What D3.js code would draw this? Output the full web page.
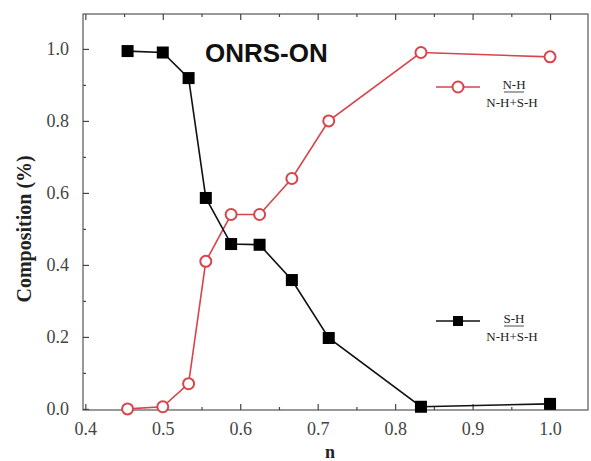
<!DOCTYPE html>
<html>
<head>
<meta charset="utf-8">
<style>
body { margin: 0; background: #fff; }
svg text { font-family: "Liberation Serif", "DejaVu Serif", serif; }
</style>
</head>
<body>
<div id="chart"></div>
<script src="https://d3js.org/d3.v7.min.js"></script>
<script>
const nValues = [5/11, 1/2, 8/15, 5/9, 10/17, 5/8, 2/3, 5/7, 5/6, 1.0];
const shFraction = [0.994, 0.99, 0.919, 0.586, 0.458, 0.456, 0.358, 0.197, 0.006, 0.014];
const nhFraction = [0.0, 0.006, 0.07, 0.41, 0.54, 0.54, 0.64, 0.80, 0.99, 0.978];
const xTicks = [0.4, 0.5, 0.6, 0.7, 0.8, 0.9, 1.0];
const yTicks = [0.0, 0.2, 0.4, 0.6, 0.8, 1.0];

const width = 591, height = 461;
const margin = {left: 83, right: 3, top: 14, bottom: 51};

const svg = d3.select("#chart").append("svg")
  .attr("width", width)
  .attr("height", height);

const x = d3.scaleLinear().domain([0.397, 1.049]).range([margin.left, width - margin.right]);
const y = d3.scaleLinear().domain([-0.003, 1.097]).range([height - margin.bottom, margin.top]);

const plotW = width - margin.left - margin.right;
const plotH = height - margin.top - margin.bottom;

// frame
svg.append("rect")
  .attr("x", margin.left).attr("y", margin.top)
  .attr("width", plotW).attr("height", plotH)
  .attr("fill", "none").attr("stroke", "#555").attr("stroke-width", 1.2);

// axes: ticks inward, labels outside
const xMinor = d3.range(0.45, 1.04, 0.1);
const yMinor = d3.range(0.1, 1.05, 0.2);

svg.append("g")
  .attr("transform", `translate(0,${height - margin.bottom})`)
  .call(d3.axisBottom(x).tickValues(xTicks).tickSize(-6).tickPadding(12).tickFormat(d3.format(".1f")));
svg.append("g")
  .attr("transform", `translate(0,${height - margin.bottom})`)
  .call(d3.axisBottom(x).tickValues(xMinor).tickSize(-3).tickFormat(""));
svg.append("g")
  .attr("transform", `translate(0,${margin.top})`)
  .call(d3.axisTop(x).tickValues(xTicks).tickSize(-6).tickFormat(""));
svg.append("g")
  .attr("transform", `translate(0,${margin.top})`)
  .call(d3.axisTop(x).tickValues(xMinor).tickSize(-3).tickFormat(""));

svg.append("g")
  .attr("transform", `translate(${margin.left},0)`)
  .call(d3.axisLeft(y).tickValues(yTicks).tickSize(-6).tickPadding(14).tickFormat(d3.format(".1f")));
svg.append("g")
  .attr("transform", `translate(${margin.left},0)`)
  .call(d3.axisLeft(y).tickValues(yMinor).tickSize(-3).tickFormat(""));

svg.selectAll(".domain").remove();
svg.selectAll(".tick line").attr("stroke", "#444").attr("stroke-width", 1.2);
svg.selectAll(".tick text")
  .attr("font-size", 18)
  .attr("fill", "#444")
  .style("font-family", "'Liberation Serif', serif");

// axis titles
svg.append("text")
  .attr("transform", `translate(31,${y(0.5)}) rotate(-90)`)
  .attr("text-anchor", "middle")
  .attr("font-size", 20)
  .attr("font-weight", "bold")
  .attr("fill", "#222")
  .text("Composition (%)");

svg.append("text")
  .attr("x", x(0.716)).attr("y", 458)
  .attr("text-anchor", "middle")
  .attr("font-size", 18)
  .attr("font-weight", "bold")
  .attr("fill", "#222")
  .text("n");

// title
svg.append("text")
  .attr("x", 205).attr("y", 62)
  .attr("font-size", 26)
  .attr("font-weight", "bold")
  .style("font-family", "'Liberation Sans', Arial, sans-serif")
  .attr("fill", "#111")
  .text("ONRS-ON");

const line = d3.line().x(d => x(d[0])).y(d => y(d[1]));

const red = "#d9434a";
const shPts = nValues.map((n, i) => [n, shFraction[i]]);
const nhPts = nValues.map((n, i) => [n, nhFraction[i]]);

svg.append("path").datum(nhPts)
  .attr("d", line).attr("fill", "none").attr("stroke", red).attr("stroke-width", 1.6);
svg.append("path").datum(shPts)
  .attr("d", line).attr("fill", "none").attr("stroke", "#111").attr("stroke-width", 1.6);

svg.append("g").selectAll("circle")
  .data(nhPts).join("circle")
  .attr("cx", d => x(d[0])).attr("cy", d => y(d[1]))
  .attr("r", 5.5)
  .attr("fill", "#fff").attr("stroke", red).attr("stroke-width", 2);

svg.append("g").selectAll("rect")
  .data(shPts).join("rect")
  .attr("x", d => x(d[0]) - 6).attr("y", d => y(d[1]) - 6)
  .attr("width", 12).attr("height", 12)
  .attr("fill", "#000");

// legends
function legend(ly, color, num, marker) {
  const g = svg.append("g");
  g.append("line").attr("x1", 436).attr("x2", 480).attr("y1", ly).attr("y2", ly)
    .attr("stroke", color).attr("stroke-width", 1.6);
  if (marker === "circle") {
    g.append("circle").attr("cx", 458).attr("cy", ly).attr("r", 5.5)
      .attr("fill", "#fff").attr("stroke", color).attr("stroke-width", 2);
  } else {
    g.append("rect").attr("x", 453).attr("y", ly - 5).attr("width", 10).attr("height", 10).attr("fill", "#000");
  }
  g.append("text").attr("x", 514).attr("y", ly + 2).attr("text-anchor", "middle")
    .attr("font-size", 13).attr("fill", "#222").text(num);
  g.append("line").attr("x1", 504).attr("x2", 524).attr("y1", ly + 5).attr("y2", ly + 5)
    .attr("stroke", "#222").attr("stroke-width", 0.8);
  g.append("text").attr("x", 512).attr("y", ly + 20).attr("text-anchor", "middle")
    .attr("font-size", 13).attr("fill", "#222").text("N-H+S-H");
}
legend(87, red, "N-H", "circle");
legend(321, "#111", "S-H", "square");
</script>
</body>
</html>
